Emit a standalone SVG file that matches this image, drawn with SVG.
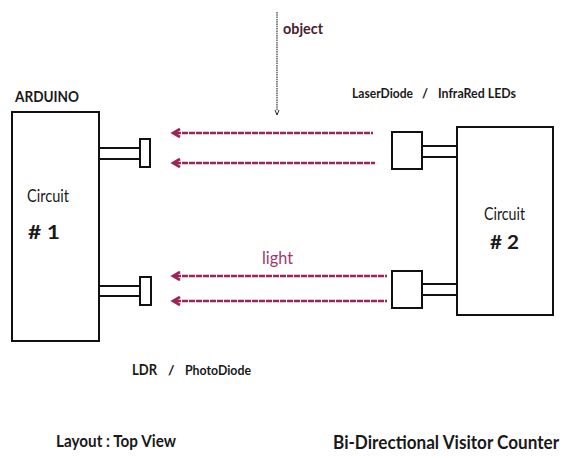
<svg xmlns="http://www.w3.org/2000/svg" width="568" height="458" viewBox="0 0 568 458">
<style>
.box{fill:#fff;stroke:#111;stroke-width:2}
.wire{stroke:#111;stroke-width:2;fill:none}
.t{font-family:Lato,"Liberation Sans",sans-serif;fill:#1a1a1a}
.b{font-weight:bold}
.beam{stroke:#9c2459;stroke-width:2.6;stroke-dasharray:6 1;fill:none}
.head{stroke:#9c2459;stroke-width:2.6;fill:none}
</style>
<rect width="568" height="458" fill="#fff"/>
<g id="circuit1">
<rect class="box" x="12" y="112" width="87" height="229"/>
<text class="t" x="27" y="202" font-size="16.5" textLength="42" lengthAdjust="spacingAndGlyphs">Circuit</text>
<text class="t b" x="28" y="239" font-size="19.5" textLength="32" lengthAdjust="spacingAndGlyphs"># 1</text>
</g>
<text class="t b" x="15" y="102" font-size="16" textLength="64" lengthAdjust="spacingAndGlyphs">ARDUINO</text>
<g id="ldr-top">
<line class="wire" x1="99" y1="148" x2="140" y2="148"/>
<line class="wire" x1="99" y1="159" x2="140" y2="159"/>
<rect class="box" x="140" y="139" width="10" height="28"/>
</g>
<g id="ldr-bottom">
<line class="wire" x1="99" y1="286" x2="140" y2="286"/>
<line class="wire" x1="99" y1="296" x2="140" y2="296"/>
<rect class="box" x="140" y="277" width="11" height="28"/>
</g>
<g id="circuit2">
<rect class="box" x="457" y="127" width="96" height="188"/>
<text class="t" x="484" y="220" font-size="16.5" textLength="41" lengthAdjust="spacingAndGlyphs">Circuit</text>
<text class="t b" x="490" y="249" font-size="19.5" textLength="29" lengthAdjust="spacingAndGlyphs"># 2</text>
</g>
<g id="laser-top">
<rect class="box" x="392" y="132" width="30" height="37"/>
<line class="wire" x1="422" y1="146" x2="457" y2="146"/>
<line class="wire" x1="422" y1="157" x2="457" y2="157"/>
</g>
<g id="laser-bottom">
<rect class="box" x="392" y="271" width="30" height="37"/>
<line class="wire" x1="422" y1="284" x2="457" y2="284"/>
<line class="wire" x1="422" y1="295" x2="457" y2="295"/>
</g>
<g id="connectors">
<line class="beam" x1="175" y1="133" x2="373" y2="133"/>
<polyline class="head" points="180,129 173,133 180,137"/>
<line class="beam" x1="175" y1="163" x2="375" y2="163"/>
<polyline class="head" points="180,159 173,163 180,167"/>
<line class="beam" x1="175" y1="276" x2="387" y2="276"/>
<polyline class="head" points="180,272 173,276 180,280"/>
<line class="beam" x1="175" y1="301" x2="387" y2="301"/>
<polyline class="head" points="180,297 173,301 180,305"/>
<line x1="277" y1="12" x2="277" y2="110" stroke="#222" stroke-width="1.1" stroke-dasharray="1.5 0.8"/>
<polyline points="275,110 277,115 279,110" fill="none" stroke="#222" stroke-width="1"/>
</g>
<text class="t b" x="283" y="34" font-size="16" style="fill:#4a2030" textLength="40" lengthAdjust="spacingAndGlyphs">object</text>
<text class="t" x="262" y="264" font-size="17" style="fill:#a0386a" textLength="31" lengthAdjust="spacingAndGlyphs">light</text>
<text class="t b" x="352" y="98" font-size="13.5" textLength="61" lengthAdjust="spacingAndGlyphs">LaserDiode</text>
<text class="t b" x="422" y="98" font-size="13">/</text>
<text class="t b" x="438" y="98" font-size="13.5" textLength="78" lengthAdjust="spacingAndGlyphs">InfraRed LEDs</text>
<text class="t b" x="132" y="375" font-size="16" textLength="25" lengthAdjust="spacingAndGlyphs">LDR</text>
<text class="t b" x="168" y="375" font-size="14">/</text>
<text class="t b" x="185" y="375" font-size="13" textLength="66" lengthAdjust="spacingAndGlyphs">PhotoDiode</text>
<text class="t b" x="56" y="447" font-size="17" textLength="120" lengthAdjust="spacingAndGlyphs">Layout :  Top View</text>
<text class="t b" transform="translate(333 449) scale(0.88 1)" x="0" y="0" font-size="19.5" textLength="257" lengthAdjust="spacingAndGlyphs">Bi-Directional Visitor Counter</text>
</svg>
